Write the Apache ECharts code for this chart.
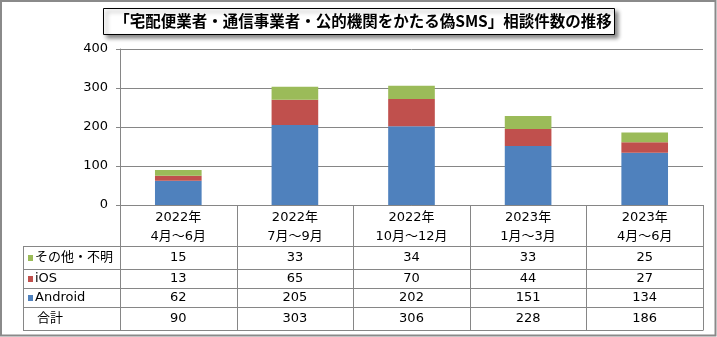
<!DOCTYPE html>
<html>
<head>
<meta charset="utf-8">
<script src="https://cdn.jsdelivr.net/npm/echarts@6/dist/echarts.min.js"></script>
<style>
  html, body { margin: 0; padding: 0; background: #fff; }
  #chart { width: 717px; height: 337px; }
</style>
</head>
<body>
<div id="chart"></div>
<script>
// Quarterly counts of fake-SMS consultations by handset type
const periods = ['2022年\n4月～6月', '2022年\n7月～9月', '2022年\n10月～12月', '2023年\n1月～3月', '2023年\n4月～6月'];
const android = [62, 205, 202, 151, 134];
const ios = [13, 65, 70, 44, 27];
const other = [15, 33, 34, 33, 25];
const totals = [90, 303, 306, 228, 186];
const yTicks = [0, 100, 200, 300, 400];
const otherName = 'その他・不明';
const iosName = 'iOS';
const androidName = 'Android';
const totalName = '合計';
const titleText = '「宅配便業者・通信事業者・公的機関をかたる偽SMS」相談件数の推移';

const COLORS = { android: '#4F81BD', ios: '#C0504D', other: '#9BBB59' };
const GRAY = '#868686';
const FONT = '"DejaVu Sans", "Noto Sans CJK JP", sans-serif';

// plot area in pixels
const PLOT = { left: 120, top: 49, right: 703, bottom: 205 };
// data-table row boundaries (below the category header row)
const ROW_Y = [246, 269, 288, 307, 330];
const TABLE_LEFT = 23;

const chart = echarts.init(document.getElementById('chart'), null, { renderer: 'canvas' });

chart.setOption({
  animation: false,
  backgroundColor: '#fff',
  grid: {
    left: PLOT.left,
    top: PLOT.top,
    right: 717 - PLOT.right,
    bottom: 337 - PLOT.bottom,
    containLabel: false
  },
  xAxis: {
    type: 'category',
    data: periods,
    axisLine: { lineStyle: { color: GRAY, width: 1 } },
    axisTick: { show: false },
    axisLabel: {
      color: '#000',
      fontFamily: FONT,
      fontSize: 13,
      lineHeight: 19,
      margin: 3,
      interval: 0
    }
  },
  yAxis: {
    type: 'value',
    min: yTicks[0],
    max: yTicks[yTicks.length - 1],
    interval: yTicks[1] - yTicks[0],
    axisLine: { show: true, lineStyle: { color: GRAY, width: 1 } },
    axisTick: { show: true, length: 4, lineStyle: { color: GRAY } },
    axisLabel: { color: '#000', fontFamily: FONT, fontSize: 13, margin: 12 },
    splitLine: { lineStyle: { color: GRAY, width: 1 } }
  },
  series: [
    { name: androidName, type: 'bar', stack: 'n', data: android, barWidth: '40%', itemStyle: { color: COLORS.android } },
    { name: iosName, type: 'bar', stack: 'n', data: ios, itemStyle: { color: COLORS.ios } },
    { name: otherName, type: 'bar', stack: 'n', data: other, itemStyle: { color: COLORS.other } }
  ]
});

// ---- frame, title box and data table ----
const g = [];
const line = (x1, y1, x2, y2, color, w) => g.push({
  type: 'line', silent: true,
  shape: { x1, y1, x2, y2 },
  style: { stroke: color, lineWidth: w || 1 }
});
const text = (str, x, y, opts) => g.push({
  type: 'text', silent: true,
  style: Object.assign({ text: str, x, y, fill: '#000', font: '13px ' + FONT, align: 'center', verticalAlign: 'middle' }, opts || {})
});

// outer frame
g.push({ type: 'rect', silent: true, shape: { x: 1, y: 1, width: 714.5, height: 334.5 },
  style: { fill: 'none', stroke: '#8a8a8a', lineWidth: 2 } });

// title box with drop shadow
g.push({ type: 'rect', silent: true, shape: { x: 103.5, y: 8.5, width: 511, height: 26 },
  style: { fill: '#fff', stroke: '#000', lineWidth: 1, shadowBlur: 4, shadowOffsetX: 3, shadowOffsetY: 3, shadowColor: 'rgba(0,0,0,0.45)' } });
text(titleText, 363, 21.5, { font: 'bold 15.5px "Noto Sans CJK JP", sans-serif' });

// table grid
const nCat = periods.length;
const colW = (PLOT.right - PLOT.left) / nCat;
ROW_Y.forEach(y => line(TABLE_LEFT, y + 0.5, PLOT.right, y + 0.5, GRAY));
line(TABLE_LEFT + 0.5, ROW_Y[0], TABLE_LEFT + 0.5, ROW_Y[ROW_Y.length - 1] + 0.5, GRAY);
for (let i = 0; i <= nCat; i++) {
  const x = Math.round(PLOT.left + i * colW) + 0.5;
  line(x, PLOT.bottom, x, ROW_Y[ROW_Y.length - 1] + 0.5, GRAY);
}

// row headers with colour keys
const rows = [
  { name: otherName, values: other, color: COLORS.other },
  { name: iosName, values: ios, color: COLORS.ios },
  { name: androidName, values: android, color: COLORS.android },
  { name: totalName, values: totals, color: null }
];
rows.forEach((r, k) => {
  const cy = (ROW_Y[k] + ROW_Y[k + 1]) / 2 + 0.5;
  if (r.color) {
    g.push({ type: 'rect', silent: true, shape: { x: 28, y: cy - 3, width: 5, height: 6 }, style: { fill: r.color } });
    text(r.name, 35, cy, { align: 'left' });
  } else {
    text(r.name, 37, cy, { align: 'left' });
  }
  r.values.forEach((v, i) => {
    const cx = chart.convertToPixel({ xAxisIndex: 0 }, i);
    text(String(v), cx, cy);
  });
});

chart.setOption({ graphic: { elements: g } });
</script>
</body>
</html>
